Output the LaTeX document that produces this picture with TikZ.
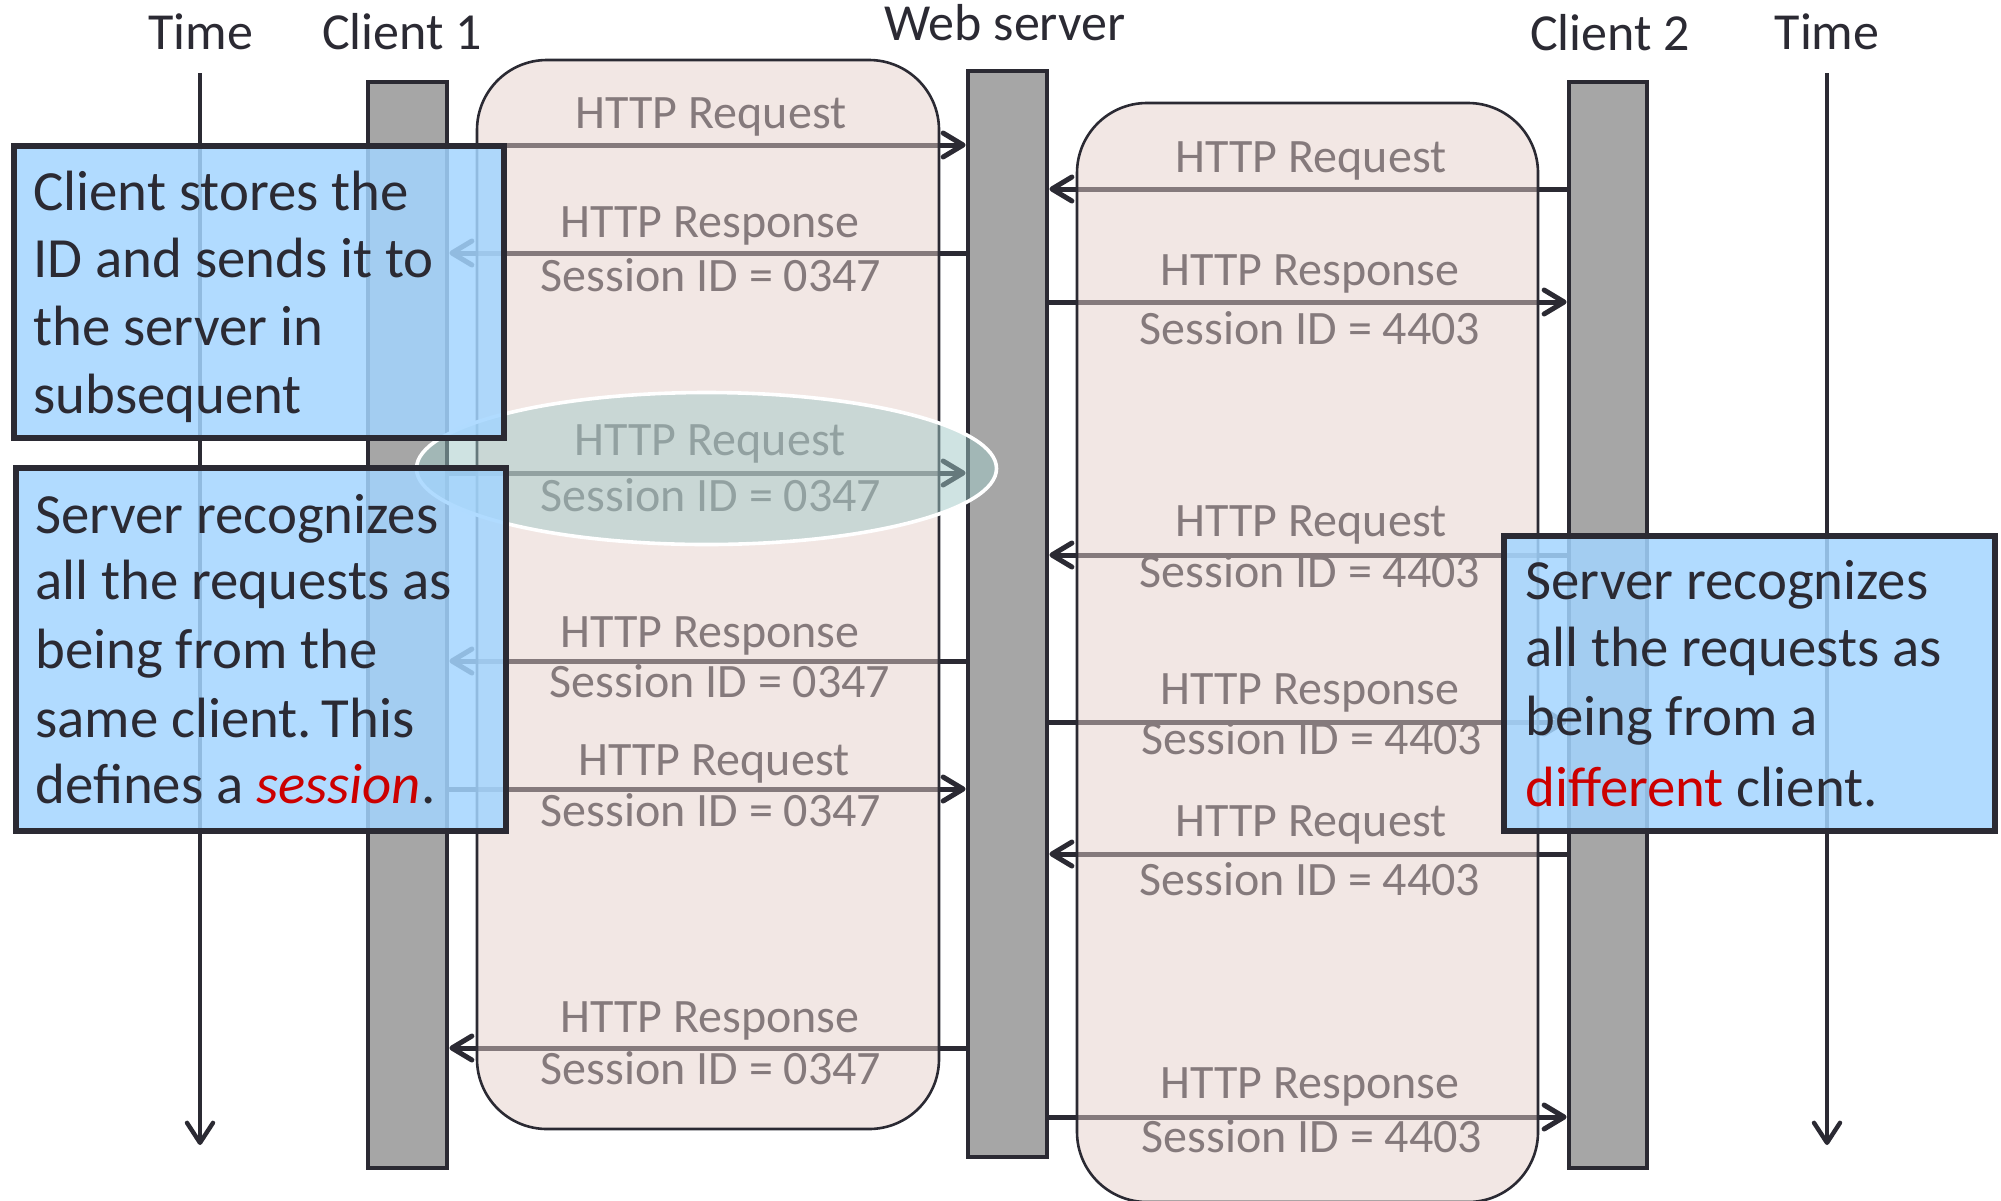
\documentclass[tikz,border=0pt]{standalone}
\usepackage{fontspec}
\setmainfont{Carlito}
\usetikzlibrary{arrows.meta,fit,shapes.geometric}
\definecolor{ink}{HTML}{2B2A33}
\definecolor{barfill}{HTML}{A6A6A6}
\definecolor{pinkfill}{RGB}{228,206,200}
\definecolor{bluefill}{RGB}{163,213,255}
\definecolor{tealfill}{RGB}{160,200,198}
\definecolor{hot}{HTML}{CC0000}
\begin{document}
\begin{tikzpicture}[x=0.5pt,y=-0.5pt,
  bar/.style={draw=ink, line width=2.4pt, fill=barfill, inner sep=0pt},
  session/.style={draw=ink, line width=1.3pt, fill=pinkfill, fill opacity=0.49, rounded corners=35pt, inner sep=0pt},
  note/.style={draw=ink, line width=2.6pt, fill=bluefill, fill opacity=0.85, inner sep=0pt},
  focus/.style={ellipse, draw=white, line width=1.8pt, fill=tealfill, fill opacity=0.5, inner sep=0pt},
  msg/.style={draw=ink, line width=2.5pt, -{Straight Barb[length=10pt,width=12pt,round]}},
  timeline/.style={draw=ink, line width=2.2pt, -{Straight Barb[length=10pt,width=13pt,round]}},
  lbl/.style={text=ink, font=\fontsize{24pt}{28pt}\selectfont, anchor=base, inner sep=0pt},
  head/.style={text=ink, font=\fontsize{26pt}{30pt}\selectfont, anchor=base, inner sep=0pt},
  txt/.style={text=ink, font=\fontsize{28.4pt}{34pt}\selectfont, anchor=base west, inner sep=0pt}]
\useasboundingbox (0,0) rectangle (2001,1200);

% time axes
\coordinate (tl0) at (200,73);  \coordinate (tl1) at (200,1145);
\coordinate (tr0) at (1827,73); \coordinate (tr1) at (1827,1145);
\draw[timeline] (tl0) -- (tl1);
\draw[timeline] (tr0) -- (tr1);

% lifelines
\node[bar, fit={(368,82) (447,1168)}] (c1) {};
\node[bar, fit={(968,71) (1047,1157)}] (srv) {};
\node[bar, fit={(1569,82) (1647,1168)}] (c2) {};

% client 1 <-> server messages
\draw[msg] (c1.east |- 0,145)  -- (srv.west |- 0,145);
\draw[msg] (srv.west |- 0,253) -- (c1.east |- 0,253);
\draw[msg] (c1.east |- 0,473)  -- (srv.west |- 0,473);
\draw[msg] (srv.west |- 0,661) -- (c1.east |- 0,661);
\draw[msg] (c1.east |- 0,789)  -- (srv.west |- 0,789);
\draw[msg] (srv.west |- 0,1048) -- (c1.east |- 0,1048);

% client 2 <-> server messages
\draw[msg] (c2.west |- 0,189)  -- (srv.east |- 0,189);
\draw[msg] (srv.east |- 0,302) -- (c2.west |- 0,302);
\draw[msg] (c2.west |- 0,555)  -- (srv.east |- 0,555);
\draw[msg] (srv.east |- 0,722) -- (c2.west |- 0,722);
\draw[msg] (c2.west |- 0,854)  -- (srv.east |- 0,854);
\draw[msg] (srv.east |- 0,1117) -- (c2.west |- 0,1117);

% message labels, client 1
\node[lbl] (a1) at (711,128)  {HTTP Request};
\node[lbl] (a2) at (710,237)  {HTTP Response};
\node[lbl] (a3) at (711,291)  {Session ID = 0347};
\node[lbl] (a4) at (710,455)  {HTTP Request};
\node[lbl] (a5) at (711,511)  {Session ID = 0347};
\node[lbl] (a6) at (710,647)  {HTTP Response};
\node[lbl] (a7) at (720,697)  {Session ID = 0347};
\node[lbl] (a8) at (714,775)  {HTTP Request};
\node[lbl] (a9) at (711,826)  {Session ID = 0347};
\node[lbl] (a10) at (710,1032) {HTTP Response};
\node[lbl] (a11) at (711,1084) {Session ID = 0347};

% message labels, client 2
\node[lbl] (b1) at (1311,172)  {HTTP Request};
\node[lbl] (b2) at (1310,285)  {HTTP Response};
\node[lbl] (b3) at (1310,344)  {Session ID = 4403};
\node[lbl] (b4) at (1311,536)  {HTTP Request};
\node[lbl] (b5) at (1310,587)  {Session ID = 4403};
\node[lbl] (b6) at (1310,704)  {HTTP Response};
\node[lbl] (b7) at (1312,754)  {Session ID = 4403};
\node[lbl] (b8) at (1311,836)  {HTTP Request};
\node[lbl] (b9) at (1310,895)  {Session ID = 4403};
\node[lbl] (b10) at (1310,1098) {HTTP Response};
\node[lbl] (b11) at (1312,1152) {Session ID = 4403};

% session panels
\node[session, fit={(477,60) (939,1129)}] (s1) {};
\node[session, fit={(1077,103) (1538,1202)}] (s2) {};

% highlighted request
\node[focus, minimum width=290pt, minimum height=76pt] (hl) at (706.5,468.5) {};

% notes
\node[note, fit={(14,146) (504,438)}] (n1) {};
\node[note, fit={(16,468) (506,831)}] (n2) {};
\node[note, fit={(1504,536) (1995,831)}] (n3) {};

\node[txt] (n1l1) at (33,210) {Client stores the};
\node[txt] (n1l2) at (33,277) {ID and sends it to};
\node[txt] (n1l3) at (33,345) {the server in};
\node[txt] (n1l4) at (33,413) {subsequent};

\node[txt] (n2l1) at (35,533) {Server recognizes};
\node[txt] (n2l2) at (35,599) {all the requests as};
\node[txt] (n2l3) at (35,668) {being from the};
\node[txt] (n2l4) at (35,737) {same client.\,This};
\node[txt] (n2l5) at (35,803) {defines a \textcolor{hot}{\textit{session}}.};

\node[txt] (n3l1) at (1525,599) {Server recognizes};
\node[txt] (n3l2) at (1525,666) {all the requests as};
\node[txt] (n3l3) at (1525,735) {being from a};
\node[txt] (n3l4) at (1525,806) {\textcolor{hot}{different} client.};

% headings
\node[head] (h1) at (201,49)  {Time};
\node[head] (h2) at (402,49)  {Client 1};
\node[head] (h3) at (1005,40) {Web server};
\node[head] (h4) at (1610,50) {Client 2};
\node[head] (h5) at (1827,49) {Time};
\end{tikzpicture}
\end{document}
